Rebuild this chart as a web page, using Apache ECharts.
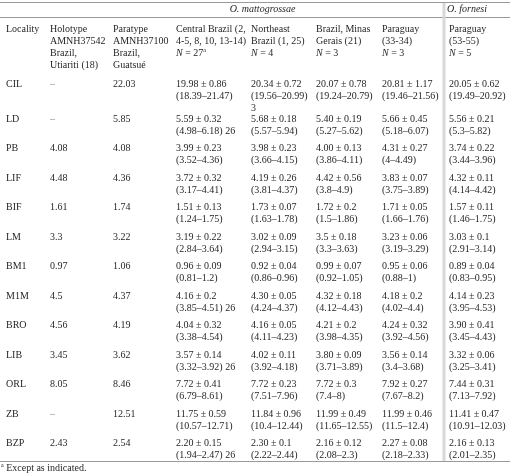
<!DOCTYPE html>
<html><head><meta charset="utf-8">
<script src="https://cdn.jsdelivr.net/npm/echarts@6/dist/echarts.min.js"></script>
<style>html,body{margin:0;padding:0;background:#fff}#c{width:510px;height:476px}</style>
</head><body><div id="c"></div>
<script>
// ---- DATA ----
const measures = ['CIL','LD','PB','LIF','BIF','LM','BM1','M1M','BRO','LIB','ORL','ZB','BZP'];
const columnHeaders = [
  'Locality',
  'Holotype\nAMNH37542\nBrazil,\nUtiariti (18)',
  'Paratype\nAMNH37100\nBrazil,\nGuatsué',
  'Central Brazil (2,\n4-5, 8, 10, 13-14)\n{it|N} = 27{sup|a}',
  'Northeast\nBrazil (1, 25)\n{it|N} = 4',
  'Brazil, Minas\nGerais (21)\n{it|N} = 3',
  'Paraguay\n(33-34)\n{it|N} = 3',
  'Paraguay\n(53-55)\n{it|N} = 5'
];
const speciesGroups = ['O. mattogrossae', 'O. fornesi'];
const holotype = ['–','–','4.08','4.48','1.61','3.3','0.97','4.5','4.56','3.45','8.05','–','2.43'];
const paratype = ['22.03','5.85','4.08','4.36','1.74','3.22','1.06','4.37','4.19','3.62','8.46','12.51','2.54'];
// [mean, sd, min, max]
const centralBrazil = [
  ['19.98','0.86','18.39','21.47'],['5.59','0.32','4.98','6.18'],['3.99','0.23','3.52','4.36'],
  ['3.72','0.32','3.17','4.41'],['1.51','0.13','1.24','1.75'],['3.19','0.22','2.84','3.64'],
  ['0.96','0.09','0.81','1.2'],['4.16','0.2','3.85','4.51'],['4.04','0.32','3.38','4.54'],
  ['3.57','0.14','3.32','3.92'],['7.72','0.41','6.79','8.61'],['11.75','0.59','10.57','12.71'],
  ['2.20','0.15','1.94','2.47']
];
const centralBrazilN = ['', '26', '', '', '', '', '', '26', '', '26', '', '', '26'];
const northeastBrazil = [
  ['20.34','0.72','19.56','20.99'],['5.68','0.18','5.57','5.94'],['3.98','0.23','3.66','4.15'],
  ['4.19','0.26','3.81','4.37'],['1.73','0.07','1.63','1.78'],['3.02','0.09','2.94','3.15'],
  ['0.92','0.04','0.86','0.96'],['4.30','0.05','4.24','4.37'],['4.16','0.05','4.11','4.23'],
  ['4.02','0.11','3.92','4.18'],['7.72','0.23','7.51','7.96'],['11.84','0.96','10.4','12.44'],
  ['2.30','0.1','2.22','2.44']
];
const northeastBrazilN = ['3', '', '', '', '', '', '', '', '', '', '', '', ''];
const minasGerais = [
  ['20.07','0.78','19.24','20.79'],['5.40','0.19','5.27','5.62'],['4.00','0.13','3.86','4.11'],
  ['4.42','0.56','3.8','4.9'],['1.72','0.2','1.5','1.86'],['3.5','0.18','3.3','3.63'],
  ['0.99','0.07','0.92','1.05'],['4.32','0.18','4.12','4.43'],['4.21','0.2','3.98','4.35'],
  ['3.80','0.09','3.71','3.89'],['7.72','0.3','7.4','8'],['11.99','0.49','11.65','12.55'],
  ['2.16','0.12','2.08','2.3']
];
const paraguayM = [
  ['20.81','1.17','19.46','21.56'],['5.66','0.45','5.18','6.07'],['4.31','0.27','4','4.49'],
  ['3.83','0.07','3.75','3.89'],['1.71','0.05','1.66','1.76'],['3.23','0.06','3.19','3.29'],
  ['0.95','0.06','0.88','1'],['4.18','0.2','4.02','4.4'],['4.24','0.32','3.92','4.56'],
  ['3.56','0.14','3.4','3.68'],['7.92','0.27','7.67','8.2'],['11.99','0.46','11.5','12.4'],
  ['2.27','0.08','2.18','2.33']
];
const paraguayF = [
  ['20.05','0.62','19.49','20.92'],['5.56','0.21','5.3','5.82'],['3.74','0.22','3.44','3.96'],
  ['4.32','0.11','4.14','4.42'],['1.57','0.11','1.46','1.75'],['3.03','0.1','2.91','3.14'],
  ['0.89','0.04','0.83','0.95'],['4.14','0.23','3.95','4.53'],['3.90','0.41','3.45','4.43'],
  ['3.32','0.06','3.25','3.41'],['7.44','0.31','7.13','7.92'],['11.41','0.47','10.91','12.03'],
  ['2.16','0.13','2.01','2.35']
];
const footnote = '{sup|a} Except as indicated.';

// ---- LAYOUT / STYLE ----
const colSizes = [44, 63, 63, 75, 65, 66, 67, 67];
const rowSizes = [15, 52, 35].concat(new Array(12).fill(29.5));
const FONT = 'Liberation Serif';
const TXT = '#231f20';
const rich = {
  it: {fontStyle: 'italic', fontFamily: FONT, fontSize: 10, color: TXT, lineHeight: 12},
  sup: {fontSize: 6, verticalAlign: 'top', fontFamily: FONT, color: TXT, lineHeight: 12, padding: [0, 0, 3, 0]}
};

const pops = [[centralBrazil, centralBrazilN, 'inline'], [northeastBrazil, northeastBrazilN, 'newline'], [minasGerais, null], [paraguayM, null], [paraguayF, null]];

const cells = [];
cells.push({coord: [[1, 6], 0], value: '{it|' + speciesGroups[0] + '}', mergeCells: true,
  label: {position: 'inside', align: 'center', verticalAlign: 'middle', padding: [0, 0, 0, 38]}});
cells.push({coord: [7, 0], value: '{it|' + speciesGroups[1] + '}',
  label: {position: 'insideLeft', align: 'left', verticalAlign: 'middle', padding: [0, 0, 0, 4]}});
columnHeaders.forEach((h, i) => cells.push({coord: [i, 1], value: h, label: {padding: [5, 0, 0, 6]}}));
measures.forEach((m, r) => {
  const row = r + 2;
  cells.push({coord: [0, row], value: m});
  cells.push({coord: [1, row], value: holotype[r], label: holotype[r] === '–' ? {color: '#8a8a8a'} : undefined});
  cells.push({coord: [2, row], value: paratype[r]});
  pops.forEach((p, k) => {
    const s = p[0][r];
    let t = s[0] + ' ± ' + s[1] + '\n(' + s[2] + '–' + s[3] + ')';
    const n = p[1] ? p[1][r] : '';
    if (n) t += (p[2] === 'inline' ? ' ' : '\n') + n;
    cells.push({coord: [3 + k, row], value: t});
  });
});

const chart = echarts.init(document.getElementById('c'), null, {renderer: 'canvas'});
chart.setOption({
  backgroundColor: '#fff',
  animation: false,
  matrix: {
    left: 0, top: 3, width: 510, height: 458,
    x: {show: false, data: colSizes.map((s, i) => ({value: 'c' + i, size: s}))},
    y: {show: false, data: rowSizes.map((s, i) => ({value: 'r' + i, size: s}))},
    backgroundStyle: {color: 'transparent', borderWidth: 0},
    body: {
      data: cells,
      itemStyle: {color: 'transparent', borderWidth: 0},
      label: {
        position: 'insideTopLeft',
        align: 'left', verticalAlign: 'top',
        overflow: 'none', lineOverflow: 'none',
        fontFamily: FONT, fontSize: 10, color: TXT, lineHeight: 12,
        padding: [8, 0, 0, 6],
        rich: rich
      }
    }
  },
  title: {
    text: footnote, left: 1, top: 462, padding: 0,
    textStyle: {fontFamily: FONT, fontSize: 10, fontWeight: 'normal', color: TXT, lineHeight: 12, rich: rich}
  },
  graphic: [
    {type: 'line', shape: {x1: 0, y1: 2.5, x2: 510, y2: 2.5}, style: {stroke: '#9a9a9a', lineWidth: 1}},
    {type: 'line', shape: {x1: 0, y1: 17.5, x2: 510, y2: 17.5}, style: {stroke: '#9a9a9a', lineWidth: 1}},
    {type: 'line', shape: {x1: 0, y1: 461.5, x2: 510, y2: 461.5}, style: {stroke: '#9a9a9a', lineWidth: 1}},
    {type: 'line', shape: {x1: 444, y1: 3, x2: 444, y2: 461}, style: {stroke: '#d8d8d8', lineWidth: 3}}
  ]
});
</script></body></html>
